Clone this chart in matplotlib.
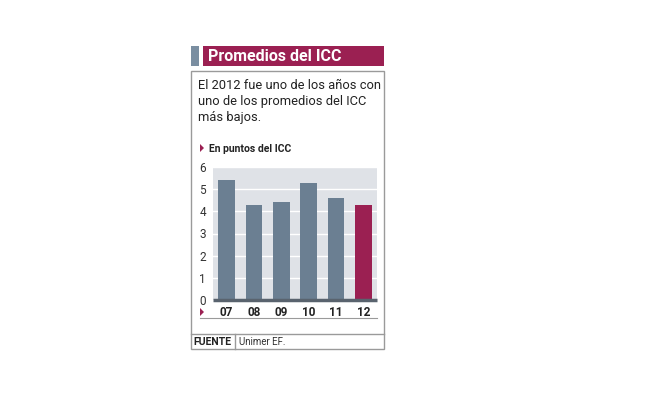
import matplotlib.pyplot as plt
from matplotlib.patches import Rectangle, Polygon
from matplotlib.lines import Line2D

# Data
years = ['07', '08', '09', '10', '11', '12']
values = [5.4, 4.3, 4.4, 5.3, 4.6, 4.3]
yticks = [0, 1, 2, 3, 4, 5, 6]

title = 'Promedios del ICC'
intro = 'El 2012 fue uno de los años con\nuno de los promedios del ICC\nmás bajos.'
subtitle = 'En puntos del ICC'
source_label = 'FUENTE'
source = 'Unimer EF.'

W, H = 653, 398
slate = '#6b7f92'
maroon = '#9b2052'
body = ['Roboto', 'DejaVu Sans']

fig = plt.figure(figsize=(W / 100, H / 100), dpi=100)


def fx(x):
    return x / W


def fy(y):
    return 1 - y / H


def rect(x0, y0, x1, y1, **kw):
    fig.patches.append(Rectangle((fx(x0), fy(y1)), fx(x1) - fx(x0), fy(y0) - fy(y1),
                                 transform=fig.transFigure, **kw))


def line(x0, y0, x1, y1, **kw):
    fig.lines.append(Line2D([fx(x0), fx(x1)], [fy(y0), fy(y1)], transform=fig.transFigure, **kw))


def tri(x, y, size=4):
    fig.patches.append(Polygon([(fx(x), fy(y - size)), (fx(x), fy(y + size)), (fx(x + size), fy(y))],
                               closed=True, transform=fig.transFigure, color=maroon, lw=0))


# header
rect(191, 46, 199, 66, color='#7a8ea1', lw=0)
rect(203, 46, 384, 66, color=maroon, lw=0)
fig.text(fx(208), fy(56.5), title, color='white', fontsize=11.5, fontweight='bold',
         family=body, va='center', ha='left')

# frame
rect(191, 71, 384, 349, fill=False, edgecolor='#9a9a9a', lw=1)
line(191, 334, 384, 334, color='#9a9a9a', lw=1)
line(235, 334, 235, 349, color='#9a9a9a', lw=1)

fig.text(fx(198), fy(79), intro, fontsize=9.3, family=body, color='#222222',
         va='top', ha='left', linespacing=1.3)

tri(200, 148)
fig.text(fx(209), fy(148.5), subtitle, fontsize=7.5, fontweight='bold', family=body,
         color='#222222', va='center', ha='left')

# chart
ax = fig.add_axes([fx(213), fy(300), fx(377) - fx(213), fy(167) - fy(300)])
ax.set_facecolor('#dfe2e7')
colors = [slate] * (len(years) - 1) + [maroon]
ax.bar(range(len(years)), values, width=0.62, color=colors, zorder=3)
ax.set_xlim(-0.5, len(years) - 0.5)
ax.set_ylim(0, 6)
ax.set_yticks(yticks)
ax.yaxis.grid(True, color='white', lw=1, zorder=1)
ax.set_xticks(range(len(years)))
ax.set_xticklabels(years, fontweight='bold', fontsize=8.5, family=body, color='#222222')
ax.tick_params(axis='x', length=0, pad=4)
ax.tick_params(axis='y', length=0, pad=5, labelsize=8.5, labelcolor='#333333')
for lbl in ax.get_yticklabels():
    lbl.set_family(body)
for s in ax.spines.values():
    s.set_visible(False)
ax.axhline(0, color='#59636e', lw=2.5, zorder=4, clip_on=False, solid_capstyle='butt')

tri(200, 312)
line(200, 318, 377, 318, color='#9a9a9a', lw=0.8)

fig.text(fx(193), fy(342), source_label, fontsize=7.6, fontweight='bold', family=body,
         color='#222222', va='center', ha='left')
fig.text(fx(239), fy(342), source, fontsize=7, family=body, color='#333333',
         va='center', ha='left')

fig.savefig('out.png', dpi=100)
